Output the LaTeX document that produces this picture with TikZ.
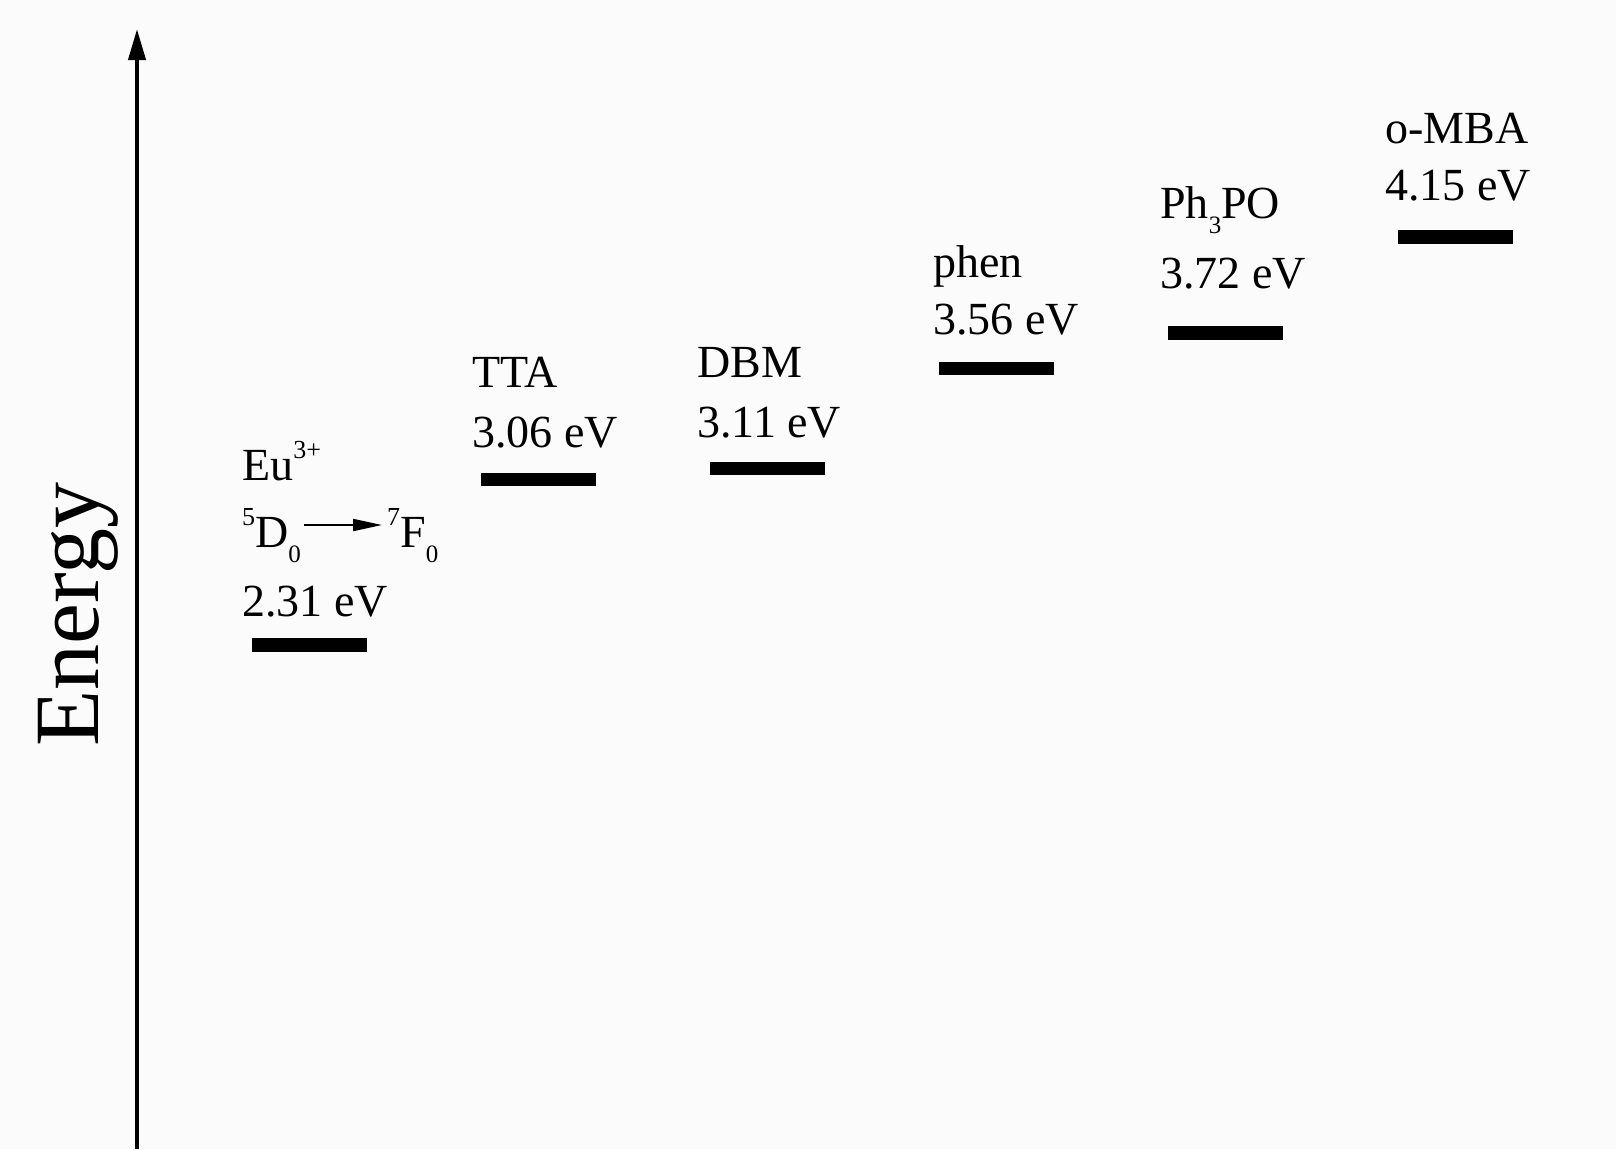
\documentclass[tikz,border=0pt]{standalone}
\usepackage{fontspec}
\setmainfont{Liberation Serif}
\usetikzlibrary{arrows.meta}

% raised / lowered indices for the term symbols
\newcommand{\hsup}[1]{\raisebox{22pt}{\fontsize{26}{26}\selectfont #1}}
\newcommand{\hsub}[1]{\raisebox{-15pt}{\fontsize{25}{25}\selectfont #1}}

\begin{document}
\begin{tikzpicture}[x=1pt,y=-1pt,
  lbl/.style={font=\fontsize{46}{55}\selectfont, anchor=base west, inner sep=0pt},
  level/.style={fill=black, draw=none, minimum width=115pt, minimum height=13.5pt, inner sep=0pt},
  axisline/.style={line width=4pt, -{Triangle[length=31pt,width=17pt]}},
  trans/.style={line width=2pt, -{Triangle[length=29pt,width=12pt]}}]

  % canvas
  \fill[gray!3] (0,0) rectangle (1616,1149);
  \useasboundingbox (0,0) rectangle (1616,1149);

  % energy axis
  \coordinate (axbot) at (137,1149);
  \coordinate (axtop) at (137,29);
  \draw[axisline] (axbot) -- (axtop);
  \node[rotate=90, anchor=base west, inner sep=0pt,
        font=\fontsize{92}{92}\selectfont] (elabel) at (98,747) {Energy};

  % Eu(3+) emitting level
  \node[lbl] (euname) at (242,480) {Eu\hsup{3+}};
  \node[lbl] (euD) at (242,547) {\hsup{5}D\hsub{0}};
  \node[lbl] (euF) at (387,547) {\hsup{7}F\hsub{0}};
  \draw[trans] ([xshift=3pt,yshift=22pt]euD.base east) -- ([xshift=-5pt,yshift=22pt]euF.base west);
  \node[lbl] (euval) at (242,616) {2.31 eV};
  \node[level] (eubar) at (309,645) {};

  % ligand triplet levels
  \node[lbl] (ttaname) at (472,387) {TTA};
  \node[lbl] (ttaval) at (472,447) {3.06 eV};
  \node[level] (ttabar) at (538,479.5) {};

  \node[lbl] (dbmname) at (697,377) {DBM};
  \node[lbl] (dbmval) at (697,437) {3.11 eV};
  \node[level] (dbmbar) at (767,468.5) {};

  \node[lbl] (phenname) at (933,277) {phen};
  \node[lbl] (phenval) at (933,334) {3.56 eV};
  \node[level] (phenbar) at (996.5,368.5) {};

  \node[lbl] (tppname) at (1160,218) {Ph\hsub{3}PO};
  \node[lbl] (tppval) at (1160,288) {3.72 eV};
  \node[level] (tppbar) at (1225.5,333) {};

  \node[lbl] (mbaname) at (1385,143) {o-MBA};
  \node[lbl] (mbaval) at (1385,200) {4.15 eV};
  \node[level] (mbabar) at (1455.5,237) {};
\end{tikzpicture}
\end{document}
